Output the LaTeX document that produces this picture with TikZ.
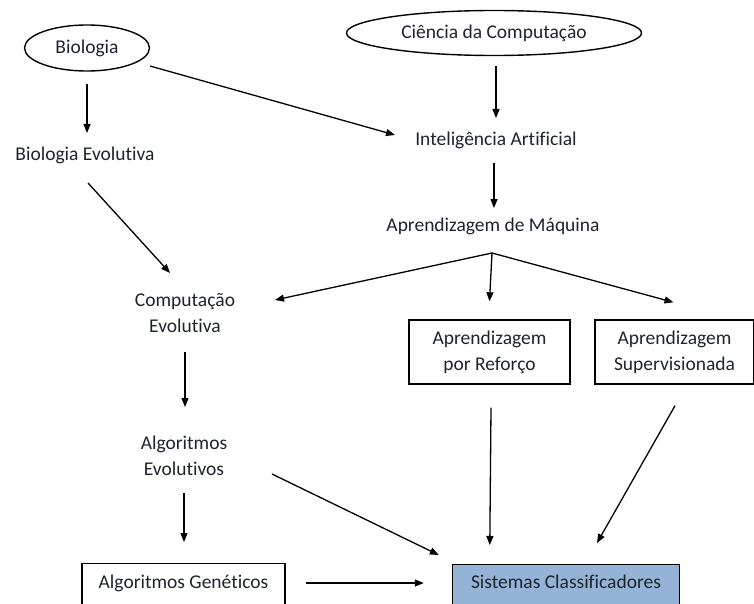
\documentclass[tikz,border=0pt]{standalone}
\usepackage{fontspec}
\setmainfont[Ligatures=NoCommon]{Carlito}
\usetikzlibrary{shapes.geometric,arrows.meta}
\definecolor{scblue}{RGB}{148,179,215}
\definecolor{txt}{RGB}{30,36,44}
\tikzset{
  lbl/.style={font=\fontsize{19.5}{26}\selectfont, text=txt, inner sep=0pt, align=center},
  ell/.style={lbl, draw=black, ellipse, line width=1.4pt},
  boxnode/.style={lbl, draw=black, rectangle, line width=1.4pt},
  arr/.style={draw=black, line width=1.3pt, -{Triangle[length=9pt,width=7pt]}}
}
\begin{document}
\begin{tikzpicture}[x=1pt,y=-1pt]
\useasboundingbox (0,0) rectangle (754,604);
\clip (0,0) rectangle (754,604);
\fill[white] (0,0) rectangle (754,604);

\node[ell, minimum width=125pt, minimum height=46pt] (bio) at (87,48) {Biologia};
\node[ell, minimum width=295pt, minimum height=45pt] (cc) at (494,33) {Ciência da Computação};
\node[lbl] (be) at (85,155) {Biologia Evolutiva};
\node[lbl] (ia) at (496,140) {Inteligência Artificial};
\node[lbl] (am) at (493,226) {Aprendizagem de Máquina};
\node[lbl] (ce) at (185,313) {Computação\\Evolutiva};
\node[lbl] (ae) at (184,456) {Algoritmos\\Evolutivos};
\node[boxnode, minimum width=161pt, minimum height=64pt] (apr) at (489.5,352) {Aprendizagem\\por Reforço};
\node[boxnode, minimum width=159pt, minimum height=64pt] (aps) at (674.5,352) {Aprendizagem\\Supervisionada};
\node[boxnode, anchor=north, minimum width=203pt, text height=20pt, text depth=22pt, inner ysep=5pt] (ag) at (183.5,563) {Algoritmos Genéticos};
\node[boxnode, fill=scblue, anchor=north, minimum width=227pt, text height=19pt, text depth=22pt, inner ysep=5pt] (sc) at (566,564) {Sistemas Classificadores};

\draw[arr] ([shift={(0,12)}]bio.south) -- ([shift={(2,-22)}]be.center);
\draw[arr] ([shift={(63,18)}]bio.center) -- ([shift={(-101,-5)}]ia.center);
\draw[arr] ([shift={(2,10)}]cc.south) -- ([shift={(0,-22)}]ia.center);
\draw[arr] ([shift={(-2,23)}]ia.center) -- ([shift={(1,-18)}]am.center);
\draw[arr] ([shift={(3,28)}]be.center) -- ([shift={(-15,-40)}]ce.center);
\draw[arr] ([shift={(-1,27)}]am.center) -- ([shift={(90,-13)}]ce.center);
\draw[arr] ([shift={(-1,27)}]am.center) -- ([shift={(0,-18)}]apr.north);
\draw[arr] ([shift={(-1,27)}]am.center) -- ([shift={(-1,-17)}]aps.north);
\draw[arr] ([shift={(0,39)}]ce.center) -- ([shift={(1,-49)}]ae.center);
\draw[arr] ([shift={(0,37)}]ae.center) -- ([shift={(0.5,-21)}]ag.north);
\draw[arr] ([shift={(88,18)}]ae.center) -- ([shift={(-13,-9)}]sc.north west);
\draw[arr] ([shift={(20,20)}]ag.north east) -- ([shift={(-28,19)}]sc.north west);
\draw[arr] ([shift={(1.5,23)}]apr.south) -- ([shift={(38,-19)}]sc.north west);
\draw[arr] ([shift={(0.5,21)}]aps.south) -- ([shift={(31,-21)}]sc.north);
\end{tikzpicture}
\end{document}
